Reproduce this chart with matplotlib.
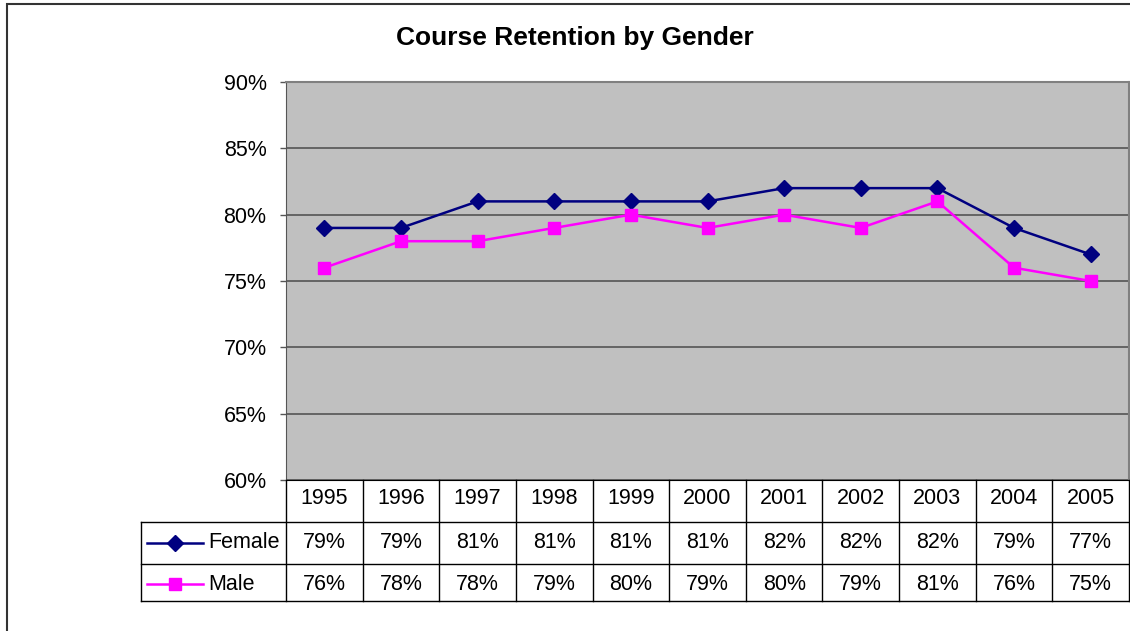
import numpy as np
import matplotlib.pyplot as plt
from matplotlib.patches import Rectangle

plt.rcParams["font.family"] = ["Liberation Sans", "DejaVu Sans"]

years = ["1995", "1996", "1997", "1998", "1999", "2000",
         "2001", "2002", "2003", "2004", "2005"]
female = [79, 79, 81, 81, 81, 81, 82, 82, 82, 79, 77]
male = [76, 78, 78, 79, 80, 79, 80, 79, 81, 76, 75]
y_ticks = [60, 65, 70, 75, 80, 85, 90]

W, H = 1130, 631
fig = plt.figure(figsize=(W / 100, H / 100), dpi=100)


def fx(px):
    return px / W


def fy(py):
    return 1 - py / H


# outer chart frame
fig.add_artist(Rectangle((fx(7), fy(640)), fx(1140 - 7), fy(4) - fy(640),
                         transform=fig.transFigure, fill=False,
                         edgecolor="#333333", lw=1.5))

left, right, top, bottom = 286, 1129, 82, 480
ax = fig.add_axes([fx(left), fy(bottom), fx(right - left), fy(top) - fy(bottom)])
ax.set_facecolor("#C0C0C0")
x = np.arange(len(years))

ax.plot(x, female, color="#000080", lw=1.8, marker="D", ms=8.5,
        markerfacecolor="#000080", markeredgecolor="#000080", zorder=3)
ax.plot(x, male, color="#FF00FF", lw=1.8, marker="s", ms=8.5,
        markerfacecolor="#FF00FF", markeredgecolor="#FF00FF", zorder=3)

ax.set_xlim(-0.5, len(years) - 0.5)
ax.set_ylim(y_ticks[0], y_ticks[-1])
ax.set_yticks(y_ticks)
ax.set_yticklabels([f"{v}%" for v in y_ticks], fontsize=15.5)
ax.set_xticks([])
ax.yaxis.grid(True, color="#555555", lw=1.2)
ax.set_axisbelow(True)
ax.tick_params(axis="y", length=4, width=1, color="#555555", pad=10)
for side in ["top", "right"]:
    ax.spines[side].set_color("#808080")
    ax.spines[side].set_linewidth(1.5)
ax.spines["left"].set_color("#555555")
ax.spines["bottom"].set_color("black")

fig.text(fx(575), fy(38), "Course Retention by Gender", ha="center", va="center",
         fontsize=19, fontweight="bold")

# data table underneath the plot (1 row unit ~ 40 px)
col_w = (right - left) / len(years)
tab_left = 141
tab = fig.add_axes([fx(tab_left), fy(601), fx(right - tab_left), fy(480) - fy(601)])
tab.set_xlim(-0.5 - (left - tab_left) / col_w, len(years) - 0.5)
tab.set_ylim(0, 3)
tab.invert_yaxis()
tab.axis("off")
row_bounds = [0, 1.04, 2.08, 3]  # year / female / male rows
text_y = [0.47, 1.56, 2.58]
lk = dict(color="black", lw=1, clip_on=False)
leg_x0 = tab.get_xlim()[0]
for i in range(len(years) + 1):
    tab.plot([i - 0.5, i - 0.5], [0, 3], **lk)
for yb in row_bounds[1:]:
    tab.plot([leg_x0, len(years) - 0.5], [yb, yb], **lk)
tab.plot([leg_x0, leg_x0], [row_bounds[1], 3], **lk)

for i, yr in enumerate(years):
    tab.text(i, text_y[0], yr, ha="center", va="center", fontsize=15.5)
    tab.text(i, text_y[1], f"{female[i]}%", ha="center", va="center", fontsize=15.5)
    tab.text(i, text_y[2], f"{male[i]}%", ha="center", va="center", fontsize=15.5)

series = [("Female", "#000080", "D", text_y[1]), ("Male", "#FF00FF", "s", text_y[2])]
lx0 = leg_x0 + 6 / col_w
lx1 = leg_x0 + 62 / col_w
for name, c, m, yc in series:
    tab.plot([lx0, lx1], [yc, yc], color=c, lw=1.8, clip_on=False)
    tab.plot([(lx0 + lx1) / 2], [yc], marker=m, ms=8.5, color=c, clip_on=False)
    tab.text(lx1 + 5 / col_w, yc, name, ha="left", va="center", fontsize=15.5)

fig.savefig("out.png", dpi=100, facecolor="white")
